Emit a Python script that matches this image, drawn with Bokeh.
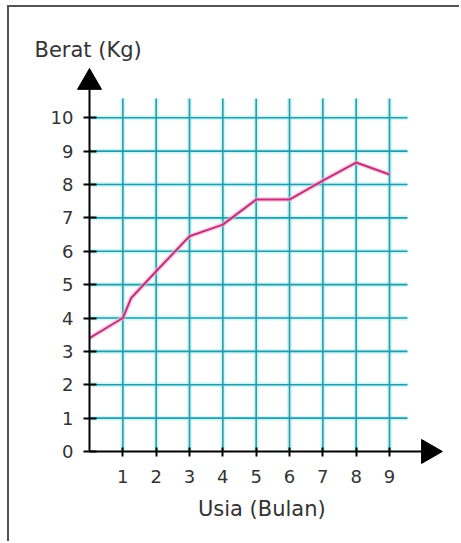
import math
from bokeh.plotting import figure
from bokeh.models import Range1d, FixedTicker, Label
from bokeh.embed import file_html
from bokeh.resources import INLINE

# ---- data ----
months = [0, 1, 1.25, 2, 3, 4, 5, 6, 7, 8, 9]
weights = [3.4, 4.0, 4.6, 5.4, 6.45, 6.8, 7.55, 7.55, 8.12, 8.66, 8.3]
x_ticks = [1, 2, 3, 4, 5, 6, 7, 8, 9]
y_ticks = [0, 1, 2, 3, 4, 5, 6, 7, 8, 9, 10]
x_label = "Usia (Bulan)"
y_label = "Berat (Kg)"

# ---- styling constants ----
GRID_TOP = 10.58      # vertical grid lines reach this weight
GRID_RIGHT = 9.54     # horizontal grid lines reach this month
FONT = "DejaVu Sans"
TXT = "#333333"

p = figure(width=452, height=536, output_backend="svg", toolbar_location=None,
           x_range=Range1d(-2.4, 11.16), y_range=Range1d(-2.757, 13.305),
           min_border=0, min_border_left=0, min_border_bottom=0,
           min_border_top=0, min_border_right=0,
           background_fill_color="white", border_fill_color="white",
           outline_line_color=None,
           styles={"margin-left": "7px", "margin-top": "5px",
                   "border-top": "2px solid #555555", "border-left": "2px solid #555555"})

p.xgrid.visible = False
p.ygrid.visible = False

# grid lines (glow + core)
vx0 = x_ticks
vy0 = [0] * len(x_ticks)
vy1 = [GRID_TOP] * len(x_ticks)
hy = y_ticks[1:]
hx0 = [0] * len(hy)
hx1 = [GRID_RIGHT] * len(hy)
p.segment(x0=vx0, y0=vy0, x1=vx0, y1=vy1, line_color="#8ff0f2", line_width=5, line_alpha=0.45)
p.segment(x0=hx0, y0=hy, x1=hx1, y1=hy, line_color="#8ff0f2", line_width=5, line_alpha=0.45)
p.segment(x0=vx0, y0=vy0, x1=vx0, y1=vy1, line_color="#2f98a6", line_width=1.6)
p.segment(x0=hx0, y0=hy, x1=hx1, y1=hy, line_color="#2f98a6", line_width=1.6)

# data line (glow + core)
p.line(months, weights, line_color="#f5b3d0", line_width=5, line_alpha=0.6)
p.line(months, weights, line_color="#c0307c", line_width=2)

# axes, drawn at the origin inside the frame
for ax in (p.xaxis, p.yaxis):
    ax.fixed_location = 0
    ax.axis_line_color = "black"
    ax.axis_line_width = 2
    ax.major_tick_line_color = "black"
    ax.major_tick_line_width = 2
    ax.minor_tick_line_color = None
    ax.major_label_text_font = FONT
    ax.major_label_text_font_size = "18px"
    ax.major_label_text_color = TXT

p.xaxis.ticker = FixedTicker(ticks=x_ticks)
p.yaxis.ticker = FixedTicker(ticks=y_ticks)
p.xaxis.bounds = (0, 10.3)
p.yaxis.bounds = (0, 11.1)
p.xaxis.major_tick_in = 4
p.xaxis.major_tick_out = 5
p.yaxis.major_tick_in = 7
p.yaxis.major_tick_out = 6
p.xaxis.major_label_standoff = 14
p.yaxis.major_label_standoff = 10

# arrow heads at the ends of the axes
p.scatter(x=[0], y=[11.06], marker="triangle", size=24,
          fill_color="black", line_color="black")
p.scatter(x=[10.17], y=[0], marker="triangle", size=24, angle=-math.pi / 2,
          fill_color="black", line_color="black")

# axis titles
p.add_layout(Label(x=-1.65, y=12.02, text=y_label, text_font=FONT, text_font_size="21px",
                   text_color=TXT, text_align="left", text_baseline="alphabetic"))
p.add_layout(Label(x=5.17, y=-1.71, text=x_label, text_font=FONT, text_font_size="21px",
                   text_color=TXT, text_align="center", text_baseline="alphabetic"))

open("out.html", "w").write(file_html(p, INLINE))
